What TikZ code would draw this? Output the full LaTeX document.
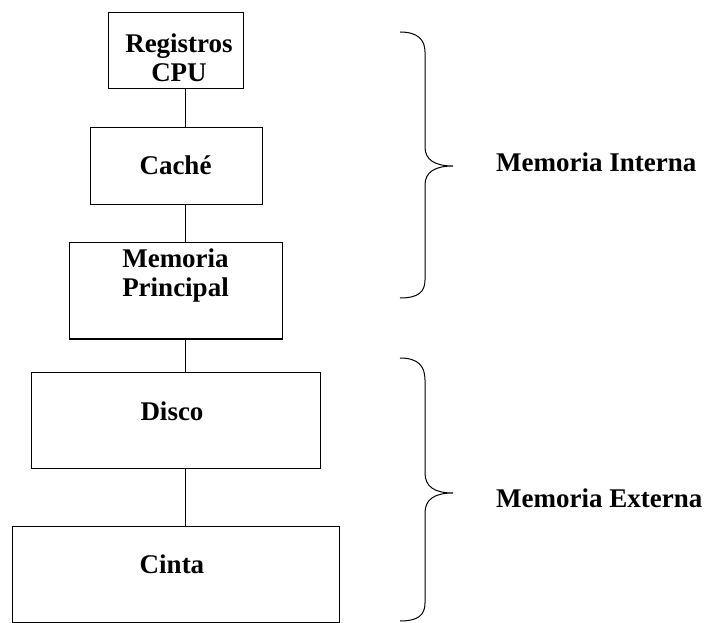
\documentclass[tikz,border=0pt]{standalone}
\usepackage{fontspec}
\setmainfont{Liberation Serif}

\begin{document}
\begin{tikzpicture}[x=1pt,y=-1pt,
    caja/.style={draw,line width=1pt,inner sep=0pt},
    rotulo/.style={font=\bfseries\fontsize{27}{29.5}\selectfont,inner sep=0pt,align=center,anchor=base}]
      \useasboundingbox (0,0) rectangle (716,623) ;
      % niveles de la jerarquia
      \node[caja,minimum width=135,minimum height=76] (reg) at (175.5,51) {} ;
      \node[caja,minimum width=172,minimum height=77] (cache) at (176,166.5) {} ;
      \node[caja,minimum width=213,minimum height=96] (ppal) at (175.5,291) {} ;
      \node[caja,minimum width=289,minimum height=96] (disco) at (175.5,420) {} ;
      \node[caja,minimum width=327,minimum height=96] (cinta) at (175.5,574) {} ;
      \node[rotulo] (reg-t) at (179,82) {Registros\\CPU} ;
      \node[rotulo] (cache-t) at (175.5,175) {Caché} ;
      \node[rotulo] (ppal-t) at (175.5,297) {Memoria\\Principal} ;
      \node[rotulo] (disco-t) at (172,420) {Disco} ;
      \node[rotulo] (cinta-t) at (172,573) {Cinta} ;
      % uniones
      \coordinate (eje) at (185,0) ;
      \draw[line width=1pt] (reg.south -| eje) -- (cache.north -| eje) ;
      \draw[line width=1pt] (cache.south -| eje) -- (ppal.north -| eje) ;
      \draw[line width=1pt] (ppal.south -| eje) -- (disco.north -| eje) ;
      \draw[line width=1pt] (disco.south -| eje) -- (cinta.north -| eje) ;
      % llaves
      \coordinate (int) at (453,166) ;
      \coordinate (ext) at (453,493) ;
      \draw[line width=1pt] (400,32) .. controls (418,32) and (425,40) .. (425,52) -- (425,147) %
        .. controls (425,160) and (435,166) .. (int) .. controls (435,166) and (425,172) .. (425,185) %
        -- (425,280) .. controls (425,292) and (418,298) .. (400,298) ;
      \draw[line width=1pt] (400,358) .. controls (418,358) and (425,366) .. (425,380) -- (425,473) %
        .. controls (425,487) and (435,493) .. (ext) .. controls (435,493) and (425,499) .. (425,513) %
        -- (425,603) .. controls (425,615) and (418,621) .. (400,621) ;
      \node[rotulo,anchor=base west] (int-t) at (496,172) {Memoria Interna} ;
      \node[rotulo,anchor=base west] (ext-t) at (496,507) {Memoria Externa} ;
    \end{tikzpicture}
\end{document}
